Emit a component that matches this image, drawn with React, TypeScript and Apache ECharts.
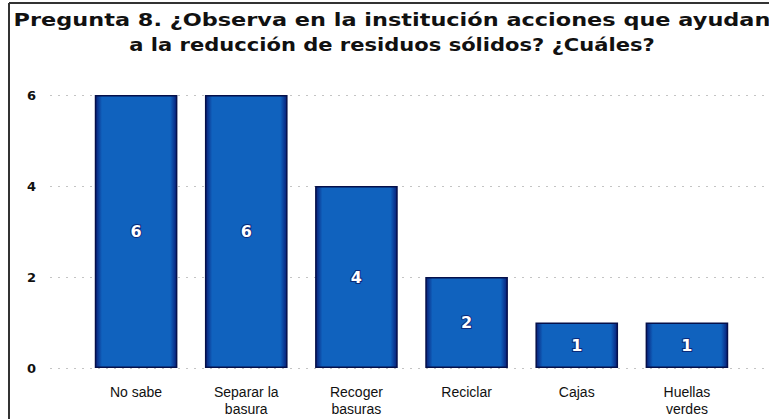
import React, { useEffect, useRef } from "react";
import * as echarts from "echarts";

const titleLines = [
  "Pregunta 8. ¿Observa en la institución acciones que ayudan",
  "a la reducción de residuos sólidos? ¿Cuáles?",
];
const categories = ["No sabe", "Separar la\nbasura", "Recoger\nbasuras", "Reciclar", "Cajas", "Huellas\nverdes"];
const values = [6, 6, 4, 2, 1, 1];
const yTicks = { min: 0, max: 6, interval: 2 };

export default function App() {
  const ref = useRef<HTMLDivElement>(null);
  useEffect(() => {
    if (!ref.current) return;
    const chart = echarts.init(ref.current, null, { renderer: "svg" });
    const barFill = new echarts.graphic.LinearGradient(0, 0, 1, 0, [
      { offset: 0, color: "#081f78" },
      { offset: 0.08, color: "#1062be" },
      { offset: 0.92, color: "#1062be" },
      { offset: 1, color: "#081f78" },
    ]);
    const titleStyle = {
      align: "center",
      verticalAlign: "middle",
      font: "bold 18px 'DejaVu Sans'",
      fill: "#111",
    };
    chart.setOption({
      animation: false,
      backgroundColor: "#ffffff",
      graphic: [
        { type: "line", shape: { x1: 9, y1: 3, x2: 769, y2: 3 }, style: { stroke: "#333", lineWidth: 2 } },
        { type: "line", shape: { x1: 9, y1: 3, x2: 9, y2: 419 }, style: { stroke: "#333", lineWidth: 2 } },
        { type: "text", x: 392, y: 20, scaleX: 1.245, style: { ...titleStyle, text: titleLines[0] } },
        { type: "text", x: 392, y: 45, scaleX: 1.17, style: { ...titleStyle, text: titleLines[1] } },
      ],
      grid: [
        { left: 81, width: 661, top: 95, height: 273 },
        { left: 50, right: 0, top: 95, height: 273 },
      ],
      xAxis: [
        {
          type: "category",
          gridIndex: 0,
          data: categories,
          axisLine: { show: false },
          axisTick: { show: false },
          axisLabel: {
            margin: 15,
            fontFamily: "Liberation Sans",
            fontSize: 14,
            lineHeight: 17,
            color: "#111",
          },
        },
        { type: "value", gridIndex: 1, show: false, min: 0, max: 1 },
      ],
      yAxis: [
        {
          type: "value",
          gridIndex: 0,
          ...yTicks,
          axisLine: { show: false },
          axisTick: { show: false },
          axisLabel: { show: false },
          splitLine: { show: false },
        },
        {
          type: "value",
          gridIndex: 1,
          ...yTicks,
          axisLine: { show: false },
          axisTick: { show: false },
          axisLabel: {
            margin: 14,
            fontFamily: "DejaVu Sans",
            fontWeight: "bold",
            fontSize: 13,
            color: "#111",
          },
          splitLine: { show: true, lineStyle: { color: "#c4c4c4", type: [2, 6], width: 1 } },
        },
      ],
      series: [
        {
          type: "bar",
          xAxisIndex: 0,
          yAxisIndex: 0,
          data: values,
          barCategoryGap: "25%",
          z: 5,
          itemStyle: { color: barFill, borderColor: "#05104a", borderWidth: 1.5 },
          label: {
            show: true,
            position: "inside",
            fontFamily: "DejaVu Sans",
            fontWeight: "bold",
            fontSize: 16,
            color: "#ffffff",
            textBorderColor: "#0a2a7a",
            textBorderWidth: 2,
          },
        },
      ],
    });
    return () => chart.dispose();
  }, []);
  return (
    <div
      ref={ref}
      style={{ position: "fixed", left: 0, top: 0, width: 769, height: 419 }}
    />
  );
}
